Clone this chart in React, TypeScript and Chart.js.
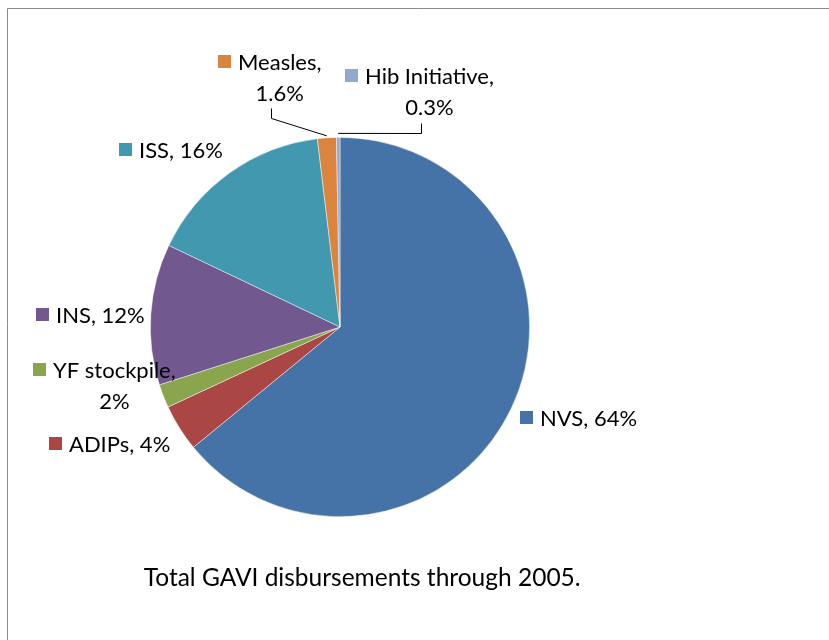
import React, { useEffect, useRef } from "react";
import { Chart, registerables } from "chart.js";

Chart.register(...registerables);

// ---- data ----
const categories = ["NVS", "ADIPs", "YF stockpile", "INS", "ISS", "Measles", "Hib Initiative"];
const shares = [64, 4, 2, 12, 16, 1.6, 0.3];
const valueLabels = ["64%", "4%", "2%", "12%", "16%", "1.6%", "0.3%"];
const sliceColors = ["#4572A7", "#AA4643", "#89A54E", "#71588F", "#4198AF", "#DB843D", "#93A9CF"];
const chartTitle = "Total GAVI disbursements through 2005.";

// ---- label layout (relative to pie centre, in radius units) ----
const labelLayout = [
  { fx: 0.947, fy: 0.442, wrap: false, leader: null },
  { fx: -1.532, fy: 0.579, wrap: false, leader: null },
  { fx: -1.621, fy: 0.189, wrap: true, leader: null },
  { fx: -1.605, fy: -0.1, wrap: false, leader: null },
  { fx: -1.168, fy: -0.968, wrap: false, leader: null },
  { fx: -0.642, fy: -1.432, wrap: true, leader: [[-0.363, -1.153], [-0.363, -1.1]], edge: 2 },
  { fx: 0.026, fy: -1.363, wrap: true, leader: [[0.426, -1.074], [0.426, -1.021]], edge: 4 },
];

const FONT = 'Lato, "Open Sans", sans-serif';
const LABEL_SIZE = 22;
const TITLE_SIZE = 24.5;

const labelPlugin = {
  id: "gaviLabels",
  beforeDraw(chart: any) {
    const ctx = chart.ctx;
    ctx.save();
    ctx.strokeStyle = "#8a8a8a";
    ctx.lineWidth = 1;
    ctx.beginPath();
    ctx.moveTo(7.5, chart.height);
    ctx.lineTo(7.5, 8.5);
    ctx.lineTo(chart.width, 8.5);
    ctx.stroke();
    ctx.restore();
  },
  afterDraw(chart: any) {
    const ctx = chart.ctx;
    const meta = chart.getDatasetMeta(0);
    const arc0 = meta.data[0];
    const cx = arc0.x;
    const cy = arc0.y;
    const r = arc0.outerRadius;
    ctx.save();
    ctx.font = `${LABEL_SIZE}px ${FONT}`;
    ctx.textBaseline = "alphabetic";
    labelLayout.forEach((lay: any, i: number) => {
      const mx = Math.round(cx + lay.fx * r);
      const my = Math.round(cy + lay.fy * r);
      ctx.fillStyle = sliceColors[i];
      ctx.fillRect(mx, my, 13, 13);
      ctx.fillStyle = "#000000";
      const tx = mx + 20;
      const by = my + 15;
      if (lay.wrap) {
        const line1 = categories[i] + ",";
        ctx.textAlign = "left";
        ctx.fillText(line1, tx, by);
        const w = ctx.measureText(line1).width;
        ctx.textAlign = "center";
        ctx.fillText(valueLabels[i], tx + w / 2, by + 31);
      } else {
        ctx.textAlign = "left";
        ctx.fillText(categories[i] + ", " + valueLabels[i], tx, by);
      }
      if (lay.leader) {
        const arc = meta.data[i];
        const mid = (arc.startAngle + arc.endAngle) / 2;
        const er = arc.outerRadius + lay.edge;
        ctx.strokeStyle = "#000000";
        ctx.lineWidth = 1;
        ctx.beginPath();
        lay.leader.forEach((p: number[], k: number) => {
          const px = Math.round(cx + p[0] * r) + 0.5;
          const py = Math.round(cy + p[1] * r) + 0.5;
          if (k === 0) ctx.moveTo(px, py);
          else ctx.lineTo(px, py);
        });
        ctx.lineTo(cx + Math.cos(mid) * er, cy + Math.sin(mid) * er);
        ctx.stroke();
      }
    });
    ctx.font = `${TITLE_SIZE}px ${FONT}`;
    ctx.textAlign = "left";
    ctx.fillStyle = "#000000";
    ctx.fillText(chartTitle, cx - r * 1.035, cy + r * 1.368);
    ctx.restore();
  },
};

export default function App() {
  const ref = useRef<HTMLCanvasElement | null>(null);
  useEffect(() => {
    if (!ref.current) return;
    const chart = new Chart(ref.current, {
      type: "pie",
      data: {
        labels: categories,
        datasets: [
          {
            data: shares,
            backgroundColor: sliceColors,
            borderColor: "rgba(255,255,255,0.6)",
            borderWidth: 0.75,
            hoverOffset: 0,
            offset: 0,
          },
        ],
      },
      options: {
        responsive: false,
        animation: false,
        events: [],
        layout: { padding: { left: 150, top: 137, right: 299, bottom: 123 } },
        plugins: {
          legend: { display: false },
          tooltip: { enabled: false },
          title: { display: false },
        },
      },
      plugins: [labelPlugin],
    });
    return () => chart.destroy();
  }, []);
  return (
    <div style={{ position: "fixed", left: 0, top: 0, width: 829, height: 640, background: "#fff" }}>
      <canvas ref={ref} width={829} height={640} style={{ display: "block" }} />
    </div>
  );
}
